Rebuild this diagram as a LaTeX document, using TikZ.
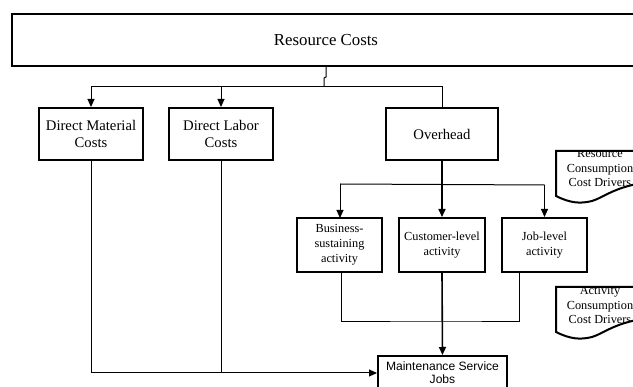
\documentclass[tikz,border=0pt]{standalone}
\usepackage{fontspec}
\setmainfont{Liberation Serif}
\setsansfont{Liberation Sans}
\usetikzlibrary{arrows.meta}

\begin{document}
\begin{tikzpicture}[
  x=1pt, y=-1pt,
  bbox/.style  = {draw, line width=2pt, align=center, fill=white,
                  minimum height=52pt, inner sep=1pt},
  cbox/.style  = {bbox, font=\fontsize{14.7}{17}\selectfont,
                  minimum width=104pt},
  abox/.style  = {bbox, font=\fontsize{12.3}{15}\selectfont,
                  minimum width=85pt, minimum height=54pt},
  conn/.style  = {line width=1pt},
  stem/.style  = {line width=1.6pt},
  arr/.style   = {conn, -{Triangle[length=8pt,width=7pt]}},
  sarr/.style  = {stem, -{Triangle[length=8pt,width=7pt]}},
  docshape/.style = {draw, line width=2pt, fill=white},
  dlbl/.style  = {font=\fontsize{12.3}{14.5}\selectfont, align=center},
]
\useasboundingbox (0,0) rectangle (633,387);
\clip (0,0) rectangle (633,387);

% top level
\node[bbox, minimum width=628pt, font=\fontsize{16.8}{20}\selectfont]
  (res) at (326,40) {Resource Costs};

\node[cbox] (dm)  at (91,134)  {Direct Material\\Costs};
\node[cbox] (dl)  at (221,134) {Direct Labor\\Costs};
\node[cbox, minimum width=112pt] (ovh) at (442,134) {Overhead};

% activity level
\node[abox] (bus) at (339.5,245) {Business-\\sustaining\\activity};
\node[abox, minimum width=86pt] (cus) at (442,245) {Customer-level\\activity};
\node[abox] (job) at (544.5,245) {Job-level\\activity};

\node[bbox, minimum width=129pt, minimum height=34pt, font=\sffamily\fontsize{12.1}{13}\selectfont]
  (msj) at (442.5,373) {Maintenance Service\\Jobs};

% resource costs split
\draw[conn] (res.south) -- ++(0,10) -- ++(-2,1) -- (324,87) coordinate (rb);
\draw[conn] (dm.north |- rb) -- (ovh.north |- rb) -- (ovh.north);
\draw[arr] (dm.north |- rb) -- (dm.north);
\draw[arr] (dl.north |- rb) -- (dl.north);

% overhead split
\draw[stem] (ovh.south) -- ++(0,24) coordinate (ob);
\draw[conn] (340,184) -- (job.north |- ob);
\draw[arr] (340,184) -- (340,218);
\draw[sarr] (ob) -- (cus.north);
\draw[arr] (job.north |- ob) -- (job.north);

% activities to jobs
\coordinate (ab) at (442,322);
\draw[conn] (341,272) |- (ab) -| (519,272);
\draw[sarr] (cus.south) -- (msj.north);

% direct costs to jobs
\draw[arr] (dm.south) |- (msj.west);
\draw[conn] (dl.south) -- (dl.south |- msj.west);

% cost driver documents
\path[docshape, path picture={
    \node[dlbl] at (600,168.5) {Resource\\Consumption\\Cost Drivers};}]
  (556,151) -- (650,151) -- (650,182)
  .. controls (615,186) and (605,197) .. (592,201)
  .. controls (580,204) and (570,203) .. (556,196) -- cycle;

\path[docshape, path picture={
    \node[dlbl] at (600,305) {Activity\\Consumption\\Cost Drivers};}]
  (556,287) -- (650,287) -- (650,318)
  .. controls (615,322) and (605,333) .. (592,337)
  .. controls (580,340) and (570,339) .. (556,332) -- cycle;

\end{tikzpicture}
\end{document}
